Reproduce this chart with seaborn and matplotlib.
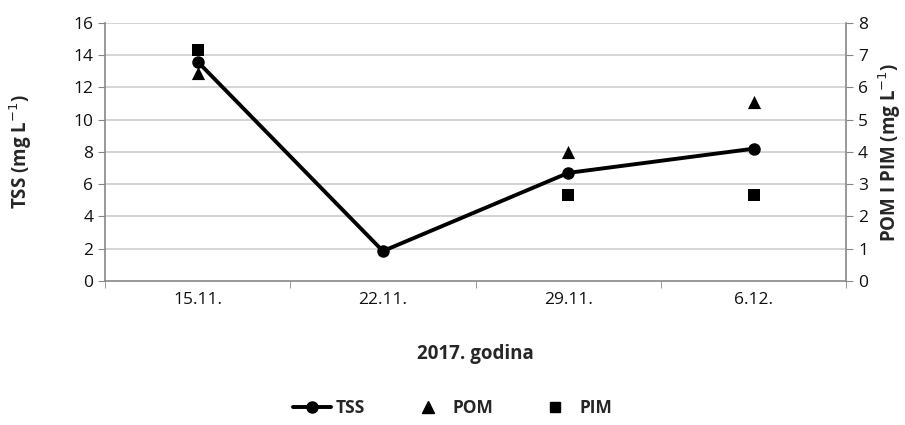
import matplotlib
matplotlib.use("Agg")
import matplotlib.pyplot as plt
import seaborn as sns
import pandas as pd
from matplotlib.lines import Line2D

dates = ['15.11.', '22.11.', '29.11.', '6.12.']
tss = [13.6, 1.85, 6.7, 8.2]
pom = [6.45, None, 4.0, 5.55]
pim = [7.15, None, 2.65, 2.65]

sns.set_style('white')
plt.rcParams['font.family'] = ['Open Sans', 'DejaVu Sans']

df = pd.DataFrame({'date': dates, 'TSS': tss, 'POM': pom, 'PIM': pim})
df['x'] = range(len(dates))

fig = plt.figure(figsize=(9.05, 4.25), dpi=100)
ax = fig.add_axes([0.116, 0.339, 0.819, 0.607])
ax2 = ax.twinx()

sns.lineplot(data=df, x='x', y='TSS', ax=ax, color='black', lw=2.8,
             marker='o', markersize=9, markeredgewidth=0, zorder=3)
sns.scatterplot(data=df, x='x', y='POM', ax=ax2, color='black', marker='^',
                s=90, linewidth=0, zorder=3)
sns.scatterplot(data=df, x='x', y='PIM', ax=ax2, color='black', marker='s',
                s=70, linewidth=0, zorder=3)

ax.set_xlim(-0.5, 3.5)
ax.set_ylim(0, 16)
ax2.set_ylim(0, 8)
ax.set_yticks(range(0, 17, 2))
ax2.set_yticks(range(0, 9))
ax.set_xticks(range(4))
ax.set_xticklabels(dates)
ax.set_xticks([-0.5, 0.5, 1.5, 2.5, 3.5], minor=True)
ax.tick_params(axis='x', which='major', length=0, labelsize=12.5, pad=8, colors='#111111')
ax.tick_params(axis='x', which='minor', bottom=True, length=5, color='#888888', direction='out')
ax.tick_params(axis='y', left=True, length=5, color='#888888', labelsize=12.5, colors='#111111')
ax2.tick_params(axis='y', right=True, length=5, color='#888888', labelsize=12.5, colors='#111111')

# horizontal gridlines at the left-axis ticks
for yv in ax.get_yticks()[1:]:
    ax.axhline(yv, color='#d4d4d4', lw=1.4, zorder=0.5)

for a in (ax, ax2):
    for s in a.spines.values():
        s.set_visible(False)
ax.spines['left'].set_visible(True)
ax.spines['bottom'].set_visible(True)
ax2.spines['right'].set_visible(True)
for s in (ax.spines['left'], ax.spines['bottom'], ax2.spines['right']):
    s.set_color('#888888')
    s.set_linewidth(1.2)

ax.set_xlabel('2017. godina', fontsize=13.5, fontweight='bold', labelpad=26)
ax.set_ylabel('TSS (mg L$^{-1}$)', fontsize=13.5, fontweight='bold', labelpad=28)
ax2.set_ylabel('POM I PIM (mg L$^{-1}$)', fontsize=13.5, fontweight='bold', labelpad=6)

handles = [
    Line2D([], [], color='black', lw=2.8, marker='o', markersize=8),
    Line2D([], [], color='black', lw=0, marker='^', markersize=9),
    Line2D([], [], color='black', lw=0, marker='s', markersize=7),
]
leg = fig.legend(handles, ['TSS', 'POM', 'PIM'], loc='center', bbox_to_anchor=(0.5, 0.04),
                 ncol=3, frameon=False, prop={'weight': 'bold', 'size': 12.5},
                 handlelength=2.2, columnspacing=2.5, handletextpad=0.3)

fig.savefig('out.png', dpi=100)
